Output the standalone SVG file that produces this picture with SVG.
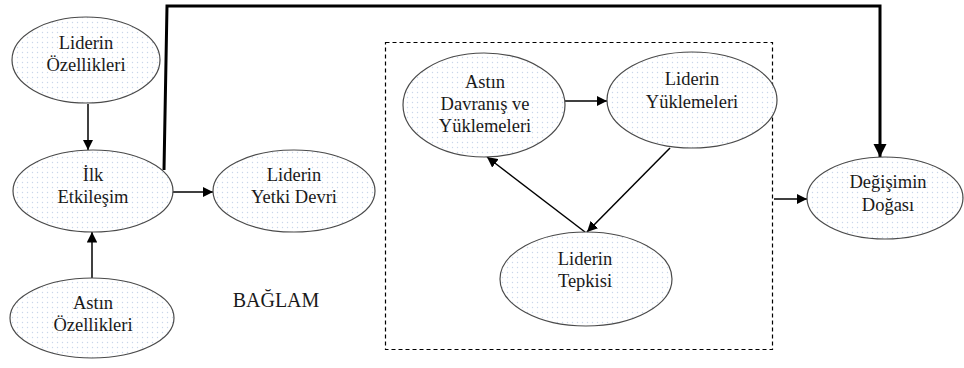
<svg xmlns="http://www.w3.org/2000/svg" width="964" height="368" viewBox="0 0 964 368">
  <style>
    .node ellipse { fill: url(#dots); stroke: #4a4a4a; stroke-width: 1.2; }
    .edge { stroke: #000; stroke-width: 1.5; fill: none; marker-end: url(#arrow); }
    .thick { stroke: #000; stroke-width: 3; fill: none; marker-end: url(#arrowBig); }
    .frame { stroke: #000; stroke-width: 1.2; stroke-dasharray: 4 3; fill: none; }
  </style>
  <defs>
    <pattern id="dots" width="5" height="5" patternUnits="userSpaceOnUse">
      <rect width="5" height="5" fill="#ffffff"/>
      <circle cx="2.5" cy="2.5" r="0.7" fill="#c9d6ea"/>
    </pattern>
    <marker id="arrow" viewBox="0 0 10 10" refX="10" refY="5" markerWidth="7" markerHeight="7" markerUnits="strokeWidth" orient="auto">
      <path d="M0,0 L10,5 L0,10 z" fill="#000"/>
    </marker>
    <marker id="arrowBig" viewBox="0 0 10 10" refX="10" refY="5" markerWidth="4.5" markerHeight="4.5" markerUnits="strokeWidth" orient="auto">
      <path d="M0,0 L10,5 L0,10 z" fill="#000"/>
    </marker>
  </defs>

  <rect width="964" height="368" fill="#ffffff"/>

  <!-- context frame -->
  <rect class="frame" x="385.5" y="42.5" width="387" height="307"/>

  <g id="connectors">
    <line class="edge" x1="88" y1="104" x2="88" y2="150"/>
    <line class="edge" x1="92" y1="278" x2="92" y2="232"/>
    <line class="edge" x1="173" y1="192" x2="213" y2="192"/>
    <polyline class="thick" points="164,170 167,6 880,6 880,157"/>
    <line class="edge" x1="565" y1="101" x2="607" y2="101"/>
    <line class="edge" x1="670" y1="148" x2="587" y2="232"/>
    <line class="edge" x1="585" y1="232" x2="487" y2="157"/>
    <line class="edge" x1="774" y1="199" x2="807" y2="199"/>
  </g>

  <g font-family="Liberation Serif" font-size="18.5" fill="#1a1a1a" text-anchor="middle">
    <text x="276" y="307" font-size="20">BAĞLAM</text>

    <g id="lider-ozellikleri" class="node">
      <ellipse cx="86" cy="60" rx="74" ry="43"/>
      <text x="86" y="49">Liderin</text>
      <text x="86" y="71">Özellikleri</text>
    </g>

    <g id="ilk-etkilesim" class="node">
      <ellipse cx="93" cy="191" rx="80" ry="41"/>
      <text x="93" y="181">İlk</text>
      <text x="93" y="203">Etkileşim</text>
    </g>

    <g id="astin-ozellikleri" class="node">
      <ellipse cx="92" cy="318" rx="82" ry="40"/>
      <text x="93" y="309">Astın</text>
      <text x="93" y="331">Özellikleri</text>
    </g>

    <g id="yetki-devri" class="node">
      <ellipse cx="294" cy="191" rx="81" ry="41"/>
      <text x="294" y="181">Liderin</text>
      <text x="294" y="203">Yetki Devri</text>
    </g>

    <g id="astin-davranis" class="node">
      <ellipse cx="484" cy="105" rx="81" ry="52"/>
      <text x="485" y="88">Astın</text>
      <text x="485" y="110">Davranış ve</text>
      <text x="485" y="132">Yüklemeleri</text>
    </g>

    <g id="lider-yuklemeleri" class="node">
      <ellipse cx="692" cy="100" rx="85" ry="48"/>
      <text x="692" y="85">Liderin</text>
      <text x="692" y="108">Yüklemeleri</text>
    </g>

    <g id="lider-tepkisi" class="node">
      <ellipse cx="586" cy="279" rx="86" ry="47"/>
      <text x="585" y="265">Liderin</text>
      <text x="585" y="287">Tepkisi</text>
    </g>

    <g id="degisimin-dogasi" class="node">
      <ellipse cx="885" cy="198" rx="78" ry="41"/>
      <text x="888" y="188">Değişimin</text>
      <text x="888" y="211">Doğası</text>
    </g>
  </g>
</svg>
